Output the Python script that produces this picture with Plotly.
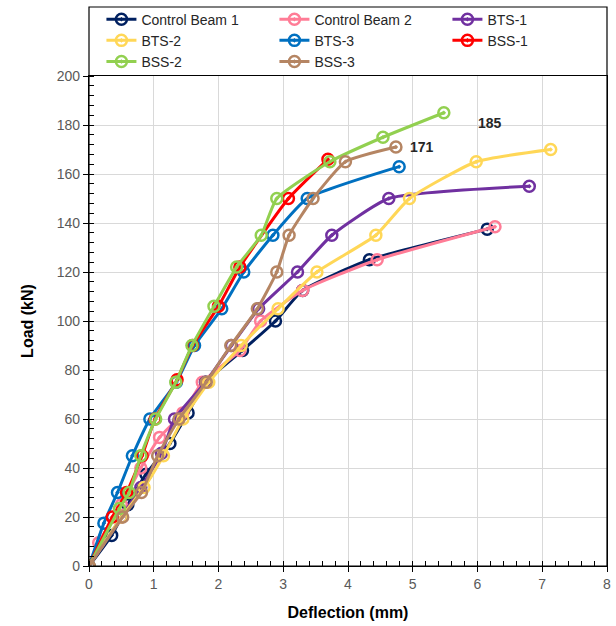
import plotly.graph_objects as go

# ---- data (deflection mm, load kN) ----
cb1_x = [0, 0.35, 0.6, 0.88, 1.25, 1.53, 1.8, 2.37, 2.88, 3.3, 4.33, 6.15]
cb1_y = [0, 12.5, 25, 37.5, 50, 62.5, 75, 88, 100, 112.5, 125, 137.5]

cb2_x = [0, 0.15, 0.5, 0.8, 1.09, 1.45, 1.75, 2.33, 2.65, 3.3, 4.45, 6.27]
cb2_y = [0, 9.5, 25, 40, 52.5, 62.5, 75, 88, 100, 112.5, 125, 138.5]

bts1_x = [0, 0.5, 0.8, 1.12, 1.32, 1.8, 2.2, 2.62, 3.22, 3.75, 4.63, 6.8]
bts1_y = [0, 20, 32, 46, 60, 75, 90, 105, 120, 135, 150, 155]

bts2_x = [0, 0.5, 0.85, 1.15, 1.45, 1.85, 2.35, 2.92, 3.52, 4.43, 4.95, 5.98, 7.13]
bts2_y = [0, 20, 32, 45, 60, 75, 90, 105, 120, 135, 150, 165, 170]

bts3_x = [0, 0.23, 0.44, 0.67, 0.94, 1.35, 1.63, 2.05, 2.39, 2.84, 3.37, 4.79]
bts3_y = [0, 17.5, 30, 45, 60, 75, 90, 105, 120, 135, 150, 163]

bss1_x = [0, 0.36, 0.58, 0.82, 1.02, 1.36, 1.6, 2.0, 2.33, 3.08, 3.69]
bss1_y = [0, 20, 30, 45, 60, 76, 90, 106, 122, 150, 166]

bss2_x = [0, 0.47, 0.62, 0.8, 1.03, 1.34, 1.59, 1.93, 2.28, 2.66, 2.9, 3.72, 4.54, 5.48]
bss2_y = [0, 23.5, 30, 45, 60, 75, 90, 106, 122, 135, 150, 165, 175, 185]

bss3_x = [0, 0.52, 0.81, 1.06, 1.39, 1.81, 2.19, 2.6, 2.9, 3.09, 3.46, 3.96, 4.74]
bss3_y = [0, 20, 30, 45, 60, 75, 90, 105, 120, 135, 150, 165, 171]

names = ["Control Beam 1", "Control Beam 2", "BTS-1", "BTS-2", "BTS-3", "BSS-1", "BSS-2", "BSS-3"]
xs = [cb1_x, cb2_x, bts1_x, bts2_x, bts3_x, bss1_x, bss2_x, bss3_x]
ys = [cb1_y, cb2_y, bts1_y, bts2_y, bts3_y, bss1_y, bss2_y, bss3_y]
colors = ["#002060", "#FF7C96", "#7030A0", "#FFD757", "#0070C0", "#FF0000", "#92D050", "#B58563"]

peak_labels = ["185", "171"]
peak_pos_x = [6.19, 5.14]
peak_pos_y = [181, 171]

fig = go.Figure()
for n, x, y, c in zip(names, xs, ys, colors):
    fig.add_trace(go.Scatter(
        x=x, y=y, name=n, mode="lines+markers",
        line=dict(color=c, width=3, shape="spline", smoothing=0.5),
        marker=dict(symbol="circle-open-dot", size=11, color=c, line=dict(width=2.5, color=c)),
    ))

for t, px, py in zip(peak_labels, peak_pos_x, peak_pos_y):
    fig.add_annotation(x=px, y=py, text="<b>%s</b>" % t, showarrow=False,
                       font=dict(size=14, color="#262626", family="Liberation Sans, Arial"))

top_ext = 1 + 69 / 490
fig.add_shape(type="rect", xref="paper", yref="paper", x0=0, x1=1, y0=0, y1=top_ext,
              line=dict(color="#000000", width=1.2), layer="above")

fig.update_layout(
    width=616, height=626,
    margin=dict(l=89, r=9, t=76, b=60, autoexpand=False),
    paper_bgcolor="white", plot_bgcolor="white",
    font=dict(family="Liberation Sans, Arial", size=14, color="#595959"),
    showlegend=True,
    legend=dict(orientation="h", x=0.024, y=top_ext + 0.007, xanchor="left", yanchor="top",
                entrywidth=128, entrywidthmode="pixels", font=dict(size=14, color="#262626"),
                bgcolor="rgba(0,0,0,0)", tracegroupgap=0, itemwidth=30),
)
fig.update_xaxes(
    range=[0, 8], dtick=1, showgrid=True, gridcolor="#D9D9D9", gridwidth=1,
    showline=True, linecolor="#000000", linewidth=1.2, mirror=True,
    ticks="outside", ticklen=5, tickcolor="#000000",
    minor=dict(ticks="inside", ticklen=5, dtick=0.2, tickcolor="#000000", showgrid=False),
    zeroline=False, automargin=False,
    title=dict(text="<b>Deflection (mm)</b>", font=dict(size=16, color="#000000"), standoff=15),
)
fig.update_yaxes(
    range=[0, 200], dtick=20, showgrid=True, gridcolor="#D9D9D9", gridwidth=1,
    showline=True, linecolor="#000000", linewidth=1.2, mirror=True,
    ticks="outside", ticklen=5, tickcolor="#000000",
    minor=dict(ticks="inside", ticklen=5, dtick=4, tickcolor="#000000", showgrid=False),
    zeroline=False, automargin=False,
    title=dict(text="<b>Load (kN)</b>", font=dict(size=16, color="#000000"), standoff=19),
)

fig.write_html("out.html", config={"displayModeBar": False},
               post_script="document.body.style.margin='0';")
